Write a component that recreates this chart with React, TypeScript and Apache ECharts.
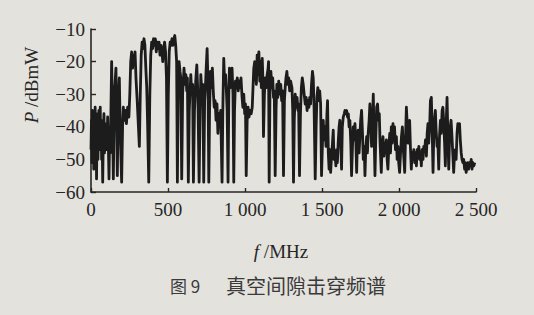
import React, { useEffect, useRef } from "react";
import * as echarts from "echarts";

const xTicks = [0, 500, 1000, 1500, 2000, 2500];
const xTickLabels = ["0", "500", "1 000", "1 500", "2 000", "2 500"];
const yTicks = [-60, -50, -40, -30, -20, -10];
const yTickLabels = ["−60", "−50", "−40", "−30", "−20", "−10"];
const xAxisTitle = "/MHz";
const xAxisSymbol = "f";
const yAxisTitle = "/dBmW";
const yAxisSymbol = "P";
const figureNumber = "图 9";
const figureCaption = "真空间隙击穿频谱";

// [frequency MHz, power dBmW]
const spectrum: [number, number][] = [
  [0, -47], [3, -38], [6, -51], [9, -35], [12, -46], [15, -40], [18, -53], [21, -37], [24, -44], [27, -34],
  [30, -49], [33, -39], [36, -56], [39, -41], [42, -36], [45, -50], [48, -43], [51, -35], [54, -47], [57, -39],
  [60, -34], [63, -45], [66, -38], [69, -50], [72, -41], [76, -57], [80, -43], [84, -36], [88, -48], [92, -39],
  [96, -46], [100, -40], [104, -47], [108, -37], [112, -44], [117, -56], [121, -42], [125, -48], [128, -40],
  [134, -20], [140, -38], [145, -56], [152, -30], [162, -22], [167, -40], [171, -55], [177, -32], [184, -25],
  [190, -42], [199, -57], [205, -40], [210, -34], [216, -38], [222, -35], [230, -39], [238, -34], [246, -37],
  [252, -30], [258, -20], [264, -17], [270, -22], [276, -18], [282, -20], [286, -17], [292, -25], [300, -32],
  [308, -40], [314, -46], [320, -30], [326, -18], [332, -14], [338, -16], [344, -13], [350, -15], [356, -22],
  [362, -28], [368, -40], [375, -57], [382, -30], [388, -18], [394, -14], [400, -16], [406, -13], [412, -15],
  [418, -13], [424, -17], [430, -14], [436, -16], [442, -14], [448, -18], [454, -15], [460, -17], [466, -20],
  [472, -16], [478, -14], [484, -17], [490, -25], [496, -57], [502, -30], [508, -17], [514, -14], [520, -15],
  [526, -13], [532, -15], [538, -13], [544, -12], [550, -15], [556, -20], [561, -57], [566, -30], [572, -20],
  [578, -23], [583, -25], [589, -56], [595, -30], [604, -22], [610, -27], [616, -24], [622, -29], [626, -25],
  [632, -57], [638, -35], [648, -24], [654, -30], [660, -27], [665, -57], [672, -35], [680, -26], [687, -21],
  [694, -30], [702, -57], [708, -36], [713, -24], [720, -30], [726, -27], [732, -57], [738, -32], [743, -28],
  [748, -22], [754, -16], [760, -27], [765, -57], [770, -35], [776, -23], [782, -28], [788, -22], [794, -29],
  [800, -34], [806, -32], [812, -38], [818, -33], [824, -42], [830, -36], [836, -40], [842, -35], [851, -57],
  [856, -35], [862, -19], [868, -27], [874, -24], [880, -30], [884, -35], [890, -57], [895, -30], [899, -22],
  [905, -28], [910, -25], [916, -22], [922, -30], [927, -57], [932, -35], [938, -26], [944, -28], [950, -25],
  [956, -29], [962, -26], [968, -28], [974, -25], [981, -31], [986, -34], [992, -30], [998, -36], [1003, -33],
  [1008, -55], [1014, -38], [1020, -34], [1026, -37], [1032, -35], [1040, -36], [1047, -34], [1052, -28],
  [1057, -22], [1063, -20], [1068, -23], [1074, -27], [1079, -18], [1085, -24], [1090, -17], [1096, -26],
  [1101, -20], [1106, -28], [1112, -19], [1116, -25], [1120, -43], [1126, -30], [1132, -25], [1138, -28],
  [1144, -24], [1150, -22], [1153, -20], [1157, -57], [1162, -30], [1168, -23], [1174, -28], [1180, -25],
  [1185, -31], [1190, -29], [1196, -55], [1202, -34], [1207, -27], [1213, -31], [1219, -26], [1225, -30],
  [1232, -27], [1238, -32], [1244, -29], [1250, -55], [1256, -32], [1261, -28], [1266, -25], [1272, -23],
  [1278, -27], [1284, -25], [1290, -29], [1296, -26], [1305, -28], [1310, -35], [1315, -57], [1320, -38],
  [1326, -30], [1332, -34], [1338, -31], [1344, -35], [1348, -33], [1354, -55], [1360, -36], [1366, -28],
  [1372, -25], [1378, -27], [1384, -30], [1391, -33], [1397, -31], [1403, -35], [1409, -32], [1415, -34],
  [1420, -31], [1426, -33], [1432, -27], [1438, -23], [1443, -25], [1449, -35], [1456, -56], [1462, -40],
  [1467, -31], [1473, -28], [1479, -32], [1485, -29], [1491, -33], [1497, -55], [1503, -45], [1508, -38],
  [1514, -44], [1520, -40], [1526, -46], [1532, -36], [1536, -32], [1541, -48], [1546, -53], [1551, -47],
  [1556, -54], [1562, -49], [1568, -45], [1573, -41], [1578, -50], [1584, -48], [1590, -52], [1595, -47],
  [1600, -51], [1605, -45], [1611, -40], [1616, -38], [1621, -44], [1627, -53], [1632, -40], [1638, -37],
  [1644, -36], [1649, -35], [1655, -36], [1660, -35], [1666, -37], [1671, -36], [1676, -40], [1681, -38],
  [1687, -45], [1692, -55], [1698, -46], [1703, -40], [1709, -44], [1714, -39], [1720, -45], [1725, -54],
  [1730, -44], [1735, -41], [1741, -48], [1746, -43], [1751, -38], [1757, -35], [1763, -42], [1768, -50],
  [1774, -46], [1779, -55], [1784, -47], [1790, -43], [1795, -48], [1800, -42], [1806, -38], [1811, -33],
  [1817, -40], [1822, -46], [1828, -38], [1833, -30], [1838, -42], [1844, -55], [1849, -44], [1855, -34],
  [1861, -33], [1866, -38], [1872, -36], [1877, -45], [1885, -54], [1890, -46], [1896, -43], [1902, -49],
  [1907, -45], [1913, -48], [1918, -44], [1923, -50], [1928, -53], [1934, -46], [1940, -42], [1945, -48],
  [1950, -40], [1956, -45], [1961, -39], [1966, -44], [1971, -40], [1977, -47], [1983, -43], [1988, -50],
  [1993, -46], [1998, -51], [2004, -54], [2010, -48], [2016, -43], [2022, -40], [2028, -47], [2032, -50],
  [2037, -54], [2042, -44], [2048, -34], [2054, -40], [2059, -45], [2064, -42], [2069, -38], [2074, -46],
  [2080, -53], [2085, -48], [2091, -50], [2096, -47], [2102, -51], [2107, -48], [2113, -52], [2118, -47],
  [2124, -49], [2129, -46], [2134, -50], [2140, -48], [2145, -52], [2150, -47], [2156, -50], [2161, -46],
  [2167, -47], [2172, -44], [2178, -49], [2183, -42], [2188, -39], [2193, -45], [2199, -40], [2204, -32],
  [2210, -31], [2215, -40], [2221, -54], [2226, -42], [2232, -37], [2236, -35], [2241, -41], [2247, -46],
  [2252, -44], [2258, -53], [2263, -43], [2269, -38], [2274, -42], [2280, -35], [2285, -34], [2290, -38],
  [2296, -45], [2301, -52], [2306, -40], [2312, -31], [2317, -42], [2323, -53], [2328, -44], [2333, -40],
  [2338, -38], [2344, -43], [2349, -48], [2355, -54], [2360, -49], [2366, -47], [2371, -50], [2377, -42],
  [2382, -39], [2388, -41], [2393, -39], [2398, -44], [2404, -48], [2409, -50], [2415, -51], [2420, -50],
  [2426, -53], [2431, -51], [2436, -54], [2442, -52], [2447, -51], [2452, -53], [2458, -51], [2463, -52],
  [2469, -50], [2474, -53], [2480, -51], [2486, -52], [2492, -51],
];

const SERIF = "'Liberation Serif', 'DejaVu Serif', serif";
const INK = "#262626";

export default function App() {
  const ref = useRef<HTMLDivElement>(null);

  useEffect(() => {
    if (!ref.current) return;
    const chart = echarts.init(ref.current, undefined, { renderer: "svg" });
    const xLabel = (v: number) => {
      const i = xTicks.indexOf(v);
      return i >= 0 ? xTickLabels[i] : "";
    };
    const yLabel = (v: number) => {
      const i = yTicks.indexOf(v);
      return i >= 0 ? yTickLabels[i] : "";
    };
    chart.setOption({
      animation: false,
      backgroundColor: "transparent",
      grid: { left: 91, right: 58, top: 29, bottom: 123, containLabel: false },
      xAxis: {
        type: "value",
        min: 0,
        max: 2500,
        interval: 500,
        axisLine: { show: true, lineStyle: { color: INK, width: 1.6 } },
        axisTick: { show: true, inside: true, length: 4, lineStyle: { color: INK, width: 1.4 } },
        axisLabel: { formatter: xLabel, fontFamily: SERIF, fontSize: 19, color: INK, margin: 8 },
        splitLine: { show: false },
      },
      yAxis: {
        type: "value",
        min: -60,
        max: -10,
        interval: 10,
        axisLine: { show: true, lineStyle: { color: INK, width: 1.6 } },
        axisTick: { show: true, inside: true, length: 5, lineStyle: { color: INK, width: 1.4 } },
        axisLabel: { formatter: yLabel, fontFamily: SERIF, fontSize: 19, color: INK, margin: 6 },
        splitLine: { show: false },
      },
      series: [
        {
          type: "line",
          data: spectrum,
          showSymbol: false,
          symbol: "none",
          lineStyle: { color: "#1c1c1c", width: 2.8, join: "round" },
        },
      ],
      graphic: [
        {
          type: "text",
          x: 281,
          y: 251,
          style: {
            text: `{i|${xAxisSymbol}} ${xAxisTitle}`,
            align: "center",
            verticalAlign: "middle",
            fontFamily: SERIF,
            fontSize: 19,
            fill: INK,
            rich: {
              i: { fontStyle: "italic", fontFamily: SERIF, fontSize: 19, fill: INK },
            },
          },
        },
        {
          type: "text",
          x: 31,
          y: 85,
          rotation: Math.PI / 2,
          style: {
            text: `{i|${yAxisSymbol}} ${yAxisTitle}`,
            align: "center",
            verticalAlign: "middle",
            fontFamily: SERIF,
            fontSize: 19,
            fill: INK,
            rich: {
              i: { fontStyle: "italic", fontFamily: SERIF, fontSize: 19, fill: INK },
            },
          },
        },
        {
          type: "text",
          x: 170,
          y: 285,
          style: {
            text: figureNumber,
            align: "left",
            verticalAlign: "middle",
            fontFamily: "'Noto Sans CJK SC', sans-serif",
            fontSize: 17,
            fill: "#3a3a3a",
          },
        },
        {
          type: "text",
          x: 226,
          y: 285,
          style: {
            text: figureCaption,
            align: "left",
            verticalAlign: "middle",
            fontFamily: "'Noto Sans CJK SC', sans-serif",
            fontSize: 20,
            fill: "#3a3a3a",
          },
        },
      ],
    });
    return () => chart.dispose();
  }, []);

  return (
    <div
      style={{
        position: "fixed",
        left: 0,
        top: 0,
        width: 534,
        height: 315,
        background: "#e4e2dd",
      }}
    >
      <div ref={ref} style={{ width: 534, height: 315 }} />
    </div>
  );
}
